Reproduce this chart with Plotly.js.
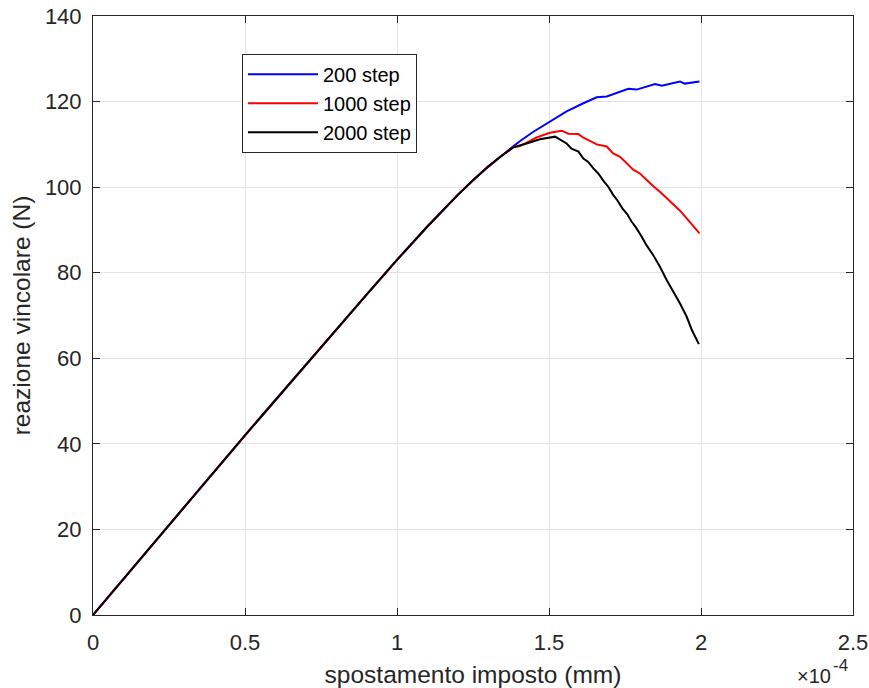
<!DOCTYPE html>
<html><head><meta charset="utf-8">
<script src="https://cdn.plot.ly/plotly-3.0.1.min.js"></script>
<style>body{margin:0;background:#fff}#c{width:869px;height:688px}</style>
</head><body><div id="c"></div>
<script>
// x in units of 1e-4 mm
const x200 = [0, 0.5, 0.9, 1.0, 1.1, 1.2, 1.25, 1.3, 1.34, 1.382, 1.405, 1.45, 1.492, 1.558, 1.613, 1.657, 1.69, 1.722, 1.761, 1.788, 1.82, 1.849, 1.871, 1.898, 1.931, 1.947, 1.97, 1.995];
const y200 = [0, 42, 74.9, 83, 90.8, 98.2, 101.6, 104.8, 107.1, 109.4, 110.8, 113.0, 114.9, 117.7, 119.6, 121.0, 121.2, 122.0, 123.0, 122.8, 123.5, 124.1, 123.7, 124.2, 124.7, 124.2, 124.4, 124.7];
const x1000 = [0, 0.5, 0.9, 1.0, 1.1, 1.2, 1.25, 1.3, 1.34, 1.382, 1.405, 1.459, 1.503, 1.542, 1.564, 1.597, 1.612, 1.629, 1.657, 1.69, 1.711, 1.734, 1.755, 1.777, 1.799, 1.82, 1.845, 1.865, 1.887, 1.909, 1.931, 1.953, 1.975, 1.995];
const y1000 = [0, 42, 74.9, 83, 90.8, 98.2, 101.6, 104.8, 107.1, 109.3, 109.6, 111.6, 112.7, 113.2, 112.5, 112.4, 111.6, 111.0, 110.0, 109.5, 107.9, 107.1, 105.7, 104.1, 103.2, 101.7, 100.1, 98.9, 97.4, 95.8, 94.5, 92.7, 90.8, 89.2];
const x2000 = [0, 0.5, 0.9, 1.0, 1.1, 1.2, 1.25, 1.3, 1.34, 1.382, 1.426, 1.47, 1.52, 1.536, 1.558, 1.574, 1.597, 1.613, 1.629, 1.646, 1.662, 1.681, 1.695, 1.711, 1.724, 1.742, 1.757, 1.772, 1.786, 1.805, 1.82, 1.843, 1.865, 1.887, 1.909, 1.931, 1.953, 1.97, 1.993];
const y2000 = [0, 42, 74.9, 83, 90.8, 98.2, 101.6, 104.8, 107.1, 109.3, 110.2, 111.2, 111.8, 111.1, 110.2, 109.0, 108.3, 106.7, 105.9, 104.4, 103.2, 101.3, 100.1, 98.2, 97.0, 95.0, 93.7, 91.9, 90.6, 88.4, 86.5, 84.1, 81.4, 78.3, 75.6, 72.8, 69.7, 66.6, 63.3];
const names = ['200 step', '1000 step', '2000 step'];
const colors = ['#0000ff', '#ff0000', '#000000'];
const xTicks = [0, 0.5, 1, 1.5, 2, 2.5];
const xTickText = ['0', '0.5', '1', '1.5', '2', '2.5'];
const yTicks = [0, 20, 40, 60, 80, 100, 120, 140];
const expBase = '×10', expPow = '-4';

const xs = [x200, x1000, x2000], ys = [y200, y1000, y2000];
const traces = xs.map((xx, i) => ({
  x: xx, y: ys[i], type: 'scatter', mode: 'lines', name: names[i],
  line: {color: colors[i], width: 2}
}));
const txt = '#262626';
const fam = 'Liberation Sans, Arial, sans-serif';
const ax = {
  showline: true, mirror: 'ticks', linecolor: txt, linewidth: 1,
  ticks: 'inside', ticklen: 7, tickcolor: txt, tickwidth: 1,
  showgrid: true, gridcolor: '#e3e3e3', gridwidth: 1, zeroline: false,
  tickfont: {family: fam, size: 22, color: txt}
};
const layout = {
  width: 869, height: 688,
  margin: {l: 93, r: 16, t: 16, b: 73},
  paper_bgcolor: '#fff', plot_bgcolor: '#fff',
  font: {family: fam, color: txt},
  xaxis: Object.assign({}, ax, {range: [0, 2.5], tickvals: xTicks, ticktext: xTickText,
    ticklabelstandoff: 8,
    title: {text: 'spostamento imposto (mm)', font: {size: 24.5, color: txt}, standoff: 16}}),
  yaxis: Object.assign({}, ax, {range: [0, 140], tickvals: yTicks, ticklabelstandoff: 6,
    title: {text: 'reazione vincolare (N)', font: {size: 24.5, color: txt}, standoff: 7}}),
  showlegend: true,
  legend: {x: 0.196, y: 0.937, xanchor: 'left', yanchor: 'top', bgcolor: '#fff',
    bordercolor: txt, borderwidth: 1, font: {size: 20, color: '#000'},
    itemwidth: 70, tracegroupgap: 0},
  annotations: [
    {xref: 'paper', yref: 'paper', x: 0.9724, y: -0.1219, xanchor: 'right', yanchor: 'bottom',
     borderpad: 0, text: expBase, showarrow: false, font: {size: 20, color: txt}},
    {xref: 'paper', yref: 'paper', x: 0.9724, y: -0.102, xanchor: 'left', yanchor: 'bottom',
     borderpad: 0, text: expPow, showarrow: false, font: {size: 17, color: txt}}
  ]
};
Plotly.newPlot('c', traces, layout, {displayModeBar: false});
</script></body></html>
